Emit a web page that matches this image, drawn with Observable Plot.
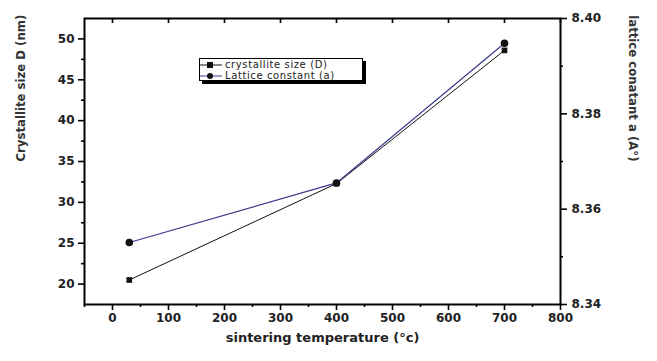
<!DOCTYPE html>
<html><head><meta charset="utf-8">
<script src="https://cdn.jsdelivr.net/npm/d3@7"></script>
<script src="https://cdn.jsdelivr.net/npm/@observablehq/plot@0.6"></script>
<style>
body{margin:0;background:#fff;}
#wrap{position:relative;width:657px;height:361px;}
#legend{position:absolute;left:199px;top:58px;width:164px;height:23px;border:1px solid #000;background:#fff;box-shadow:3px 3px 0 #000;font:10px "DejaVu Sans",sans-serif;letter-spacing:0.6px;color:#222;padding-top:1px;box-sizing:border-box;}
#legend div{height:10.5px;line-height:10.5px;display:flex;align-items:center;white-space:nowrap;}
#legend svg{margin-right:3px;}
</style></head>
<body><div id="wrap"></div>
<script>
const temps = [30, 400, 700];
const crystalliteSize = [20.5, 32.3, 48.6];
const latticeConst = [8.353, 8.3655, 8.3948];
const xTicks = [0,100,200,300,400,500,600,700,800];
const xMinor = [-50,50,150,250,350,450,550,650,750];
const yLeftTicks = [20,25,30,35,40,45,50];
const yLeftMinor = [22.5,27.5,32.5,37.5,42.5,47.5];
const yRightTicks = [8.34,8.36,8.38,8.40];
const yRightMinor = [8.35,8.37,8.39];
const names = ["crystallite size (D)", "Lattice constant (a)"];

const xDom = [-50, 800], yDom = [17.5, 52.5], aDom = [8.34, 8.40];
const toLeft = a => yDom[0] + (a - aDom[0]) / (aDom[1]-aDom[0]) * (yDom[1]-yDom[0]);
const fromLeft = v => aDom[0] + (v - yDom[0])/(yDom[1]-yDom[0])*(aDom[1]-aDom[0]);
const dData = temps.map((t,i)=>({t, v: crystalliteSize[i]}));
const aData = temps.map((t,i)=>({t, v: toLeft(latticeConst[i])}));
const W = 657, H = 361, mT = 18, mB = 57, mL = 84, mR = 97;
// pixel lengths of tick marks converted to data units
const pxY = (yDom[1]-yDom[0]) / (H - mT - mB);
const pxX = (xDom[1]-xDom[0]) / (W - mL - mR);
const tickFont = {fontSize: 12, fontWeight: "bold", letterSpacing: 1.5, fill: "#222"};
const tk = {stroke: "#000", strokeWidth: 1.6};

const chart = Plot.plot({
  width: W, height: H,
  marginTop: mT, marginBottom: mB, marginLeft: mL, marginRight: mR,
  x: {domain: xDom},
  y: {domain: yDom},
  marks: [
    // tick marks
    Plot.ruleX(xTicks, {x: d => d, y1: yDom[0], y2: yDom[0] - 6*pxY, ...tk}),
    Plot.ruleX(xMinor, {x: d => d, y1: yDom[0], y2: yDom[0] - 3*pxY, ...tk}),
    Plot.ruleX(xTicks, {x: d => d, y1: yDom[1], y2: yDom[1] - 5*pxY, ...tk}),
    Plot.ruleY(yLeftTicks, {y: d => d, x1: xDom[0], x2: xDom[0] - 6*pxX, ...tk}),
    Plot.ruleY(yLeftMinor, {y: d => d, x1: xDom[0], x2: xDom[0] - 3*pxX, ...tk}),
    Plot.ruleY(yRightTicks.map(toLeft), {y: d => d, x1: xDom[1], x2: xDom[1] + 7*pxX, ...tk}),
    Plot.ruleY(yRightMinor.map(toLeft), {y: d => d, x1: xDom[1], x2: xDom[1] + 3*pxX, ...tk}),
    Plot.frame({stroke: "#000", strokeWidth: 2}),
    Plot.line(dData, {x: "t", y: "v", stroke: "#111", strokeWidth: 1}),
    Plot.line(aData, {x: "t", y: "v", stroke: "#3a3a8c", strokeWidth: 1.2}),
    Plot.dot(dData, {x: "t", y: "v", symbol: "square", r: 3.2, fill: "#111"}),
    Plot.dot(aData, {x: "t", y: "v", symbol: "circle", r: 3.8, fill: "#111"}),
    // tick labels
    Plot.axisX(xTicks, {anchor: "bottom", tickSize: 0, tickPadding: 9, label: null, ...tickFont}),
    Plot.axisY(yLeftTicks, {anchor: "left", tickSize: 0, tickPadding: 10, label: null, ...tickFont}),
    Plot.axisY(yRightTicks.map(toLeft), {anchor: "right", tickSize: 0, tickPadding: 11, label: null, ...tickFont, tickFormat: v => d3.format(".2f")(fromLeft(v))}),
    Plot.text(["Crystallite size D (nm)"], {frameAnchor: "left", dx: -64, rotate: -90, fontSize: 13, fontWeight: "bold", fontFamily: "DejaVu Sans Condensed, DejaVu Sans, sans-serif", fill: "#333"}),
    Plot.text(["lattice conatant a (A°)"], {frameAnchor: "right", dx: 73, rotate: 90, fontSize: 13, fontWeight: "bold", fontFamily: "DejaVu Sans Condensed, DejaVu Sans, sans-serif", fill: "#333"}),
    Plot.text(["sintering temperature (°c)"], {frameAnchor: "bottom", dy: 37, fontSize: 13, fontWeight: "bold", letterSpacing: 2, fill: "#222"})
  ]
});
chart.style.fontFamily = "DejaVu Sans, sans-serif";
const wrap = document.getElementById("wrap");
wrap.appendChild(chart);
const lg = document.createElement("div");
lg.id = "legend";
const sym = [
  '<svg width="22" height="8"><line x1="0" y1="4" x2="22" y2="4" stroke="#111"/><rect x="7" y="1" width="6" height="6" fill="#111"/></svg>',
  '<svg width="22" height="8"><line x1="0" y1="4" x2="22" y2="4" stroke="#3a3a8c"/><circle cx="10" cy="4" r="3" fill="#111"/></svg>'
];
lg.innerHTML = names.map((n,i)=>`<div>${sym[i]}${n}</div>`).join("");
wrap.appendChild(lg);
</script></body></html>
